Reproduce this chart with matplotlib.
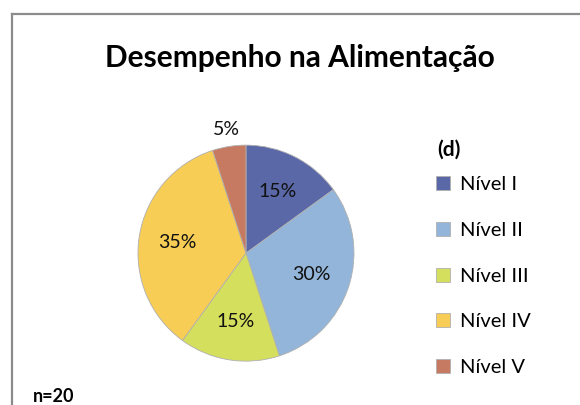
import matplotlib.pyplot as plt
from matplotlib.lines import Line2D
import numpy as np

plt.rcParams['font.family'] = ['Lato', 'DejaVu Sans']

levels = ['Nível I', 'Nível II', 'Nível III', 'Nível IV', 'Nível V']
shares = [15, 30, 15, 35, 5]
colors = ['#5a68a8', '#93b5d9', '#d5df5e', '#f7cd55', '#c77a62']

fig = plt.figure(figsize=(5.8, 4.05), dpi=100)

# chart frame (only left and top edges show)
fig.add_artist(Line2D([0.0207, 0.0207], [0, 0.965], color='#8c8c8c', lw=1.6))
fig.add_artist(Line2D([0.0207, 1.0], [0.965, 0.965], color='#8c8c8c', lw=1.6))

ax = fig.add_axes([0.2379, 0.1083, 0.3724, 0.5333])
wedges, texts, pcts = ax.pie(shares, colors=colors, startangle=90, counterclock=False,
                             autopct='%d%%', pctdistance=0.64,
                             wedgeprops=dict(edgecolor='#b0b0b0', linewidth=0.6),
                             textprops=dict(fontsize=14, color='#111111'))
# last small slice gets its label outside
w = wedges[-1]
ang = np.deg2rad((w.theta1 + w.theta2) / 2)
pcts[-1].set_position((1.16 * np.cos(ang), 1.16 * np.sin(ang)))
ax.set_xlim(-1, 1)
ax.set_ylim(-1, 1)
ax.set_aspect('equal')

fig.text(0.517, 0.857, 'Desempenho na Alimentação', ha='center', va='center',
         fontsize=21.5, fontweight='bold')

fig.legend(wedges, levels, loc='center left', bbox_to_anchor=(0.72, 0.318),
           frameon=False, fontsize=14.5, labelspacing=1.42, handlelength=0.7,
           handleheight=0.7, handletextpad=0.5)
fig.text(0.7534, 0.6296, '(d)', ha='left', va='center', fontsize=15, fontweight='bold')

fig.text(0.057, 0.02, 'n=20', ha='left', va='center', fontsize=13, fontweight='bold')

fig.savefig('out.png', dpi=100)
